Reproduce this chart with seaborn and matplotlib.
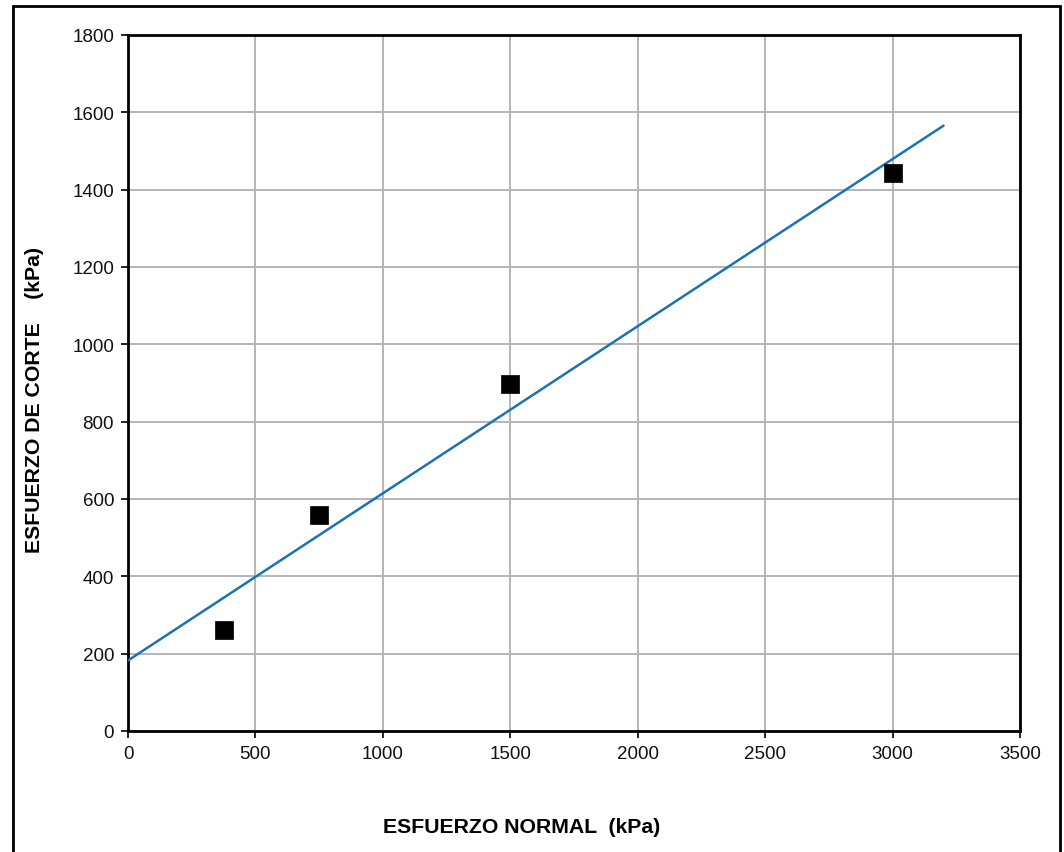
import numpy as np
import pandas as pd
import matplotlib
matplotlib.use("Agg")
import matplotlib.pyplot as plt
from matplotlib.patches import Rectangle
import seaborn as sns

# Direct shear test results
normal_stress = [375, 750, 1500, 3000]      # kPa
shear_stress = [262, 558, 898, 1443]        # kPa

# Range of the failure envelope line
envelope_x = [0, 3200]

x_ticks = [0, 500, 1000, 1500, 2000, 2500, 3000, 3500]
y_ticks = [0, 200, 400, 600, 800, 1000, 1200, 1400, 1600, 1800]

sns.set_theme(style="white")
plt.rcParams["font.family"] = ["Liberation Sans", "DejaVu Sans"]

fig = plt.figure(figsize=(10.64, 8.53), dpi=100)
ax = fig.add_axes([128 / 1064, 1 - 732 / 853, (1020 - 128) / 1064, (732 - 36) / 853])

# Linear fit (Mohr-Coulomb envelope)
slope, intercept = np.polyfit(normal_stress, shear_stress, 1)
env = pd.DataFrame({"x": envelope_x})
env["y"] = intercept + slope * env["x"]

pts = pd.DataFrame({"x": normal_stress, "y": shear_stress})

sns.lineplot(data=env, x="x", y="y", ax=ax, color="#1b72b5", linewidth=1.8, zorder=3)
sns.scatterplot(data=pts, x="x", y="y", ax=ax, marker="s", s=150, color="black",
                edgecolor="black", linewidth=0.5, zorder=4)

ax.set_xlim(0, 3500)
ax.set_ylim(0, 1800)
ax.set_xticks(x_ticks)
ax.set_yticks(y_ticks)
ax.grid(True, color="#b5b5b5", linewidth=1.4)
ax.set_axisbelow(True)
for s in ax.spines.values():
    s.set_color("black")
    s.set_linewidth(2.0)
ax.tick_params(axis="both", direction="out", length=5, width=1.2, color="black",
               labelsize=13.5, labelcolor="#111111", pad=5, bottom=True, left=True)
ax.set_xlabel("")
ax.set_ylabel("")

fig.text(522 / 1064, 1 - 828 / 853, "ESFUERZO NORMAL  (kPa)", ha="center", va="center",
         fontsize=15.3, fontweight="bold", color="black")
fig.text(35 / 1064, 1 - 400 / 853, "ESFUERZO DE CORTE    (kPa)", ha="center", va="center",
         rotation=90, fontsize=15.3, fontweight="bold", color="black")

# Outer frame
fig.patches.append(Rectangle((13 / 1064, -0.05), (1060 - 13) / 1064, 1.05 - 7 / 853,
                             transform=fig.transFigure, fill=False, edgecolor="black",
                             linewidth=2.0))

fig.savefig("out.png", dpi=100)
